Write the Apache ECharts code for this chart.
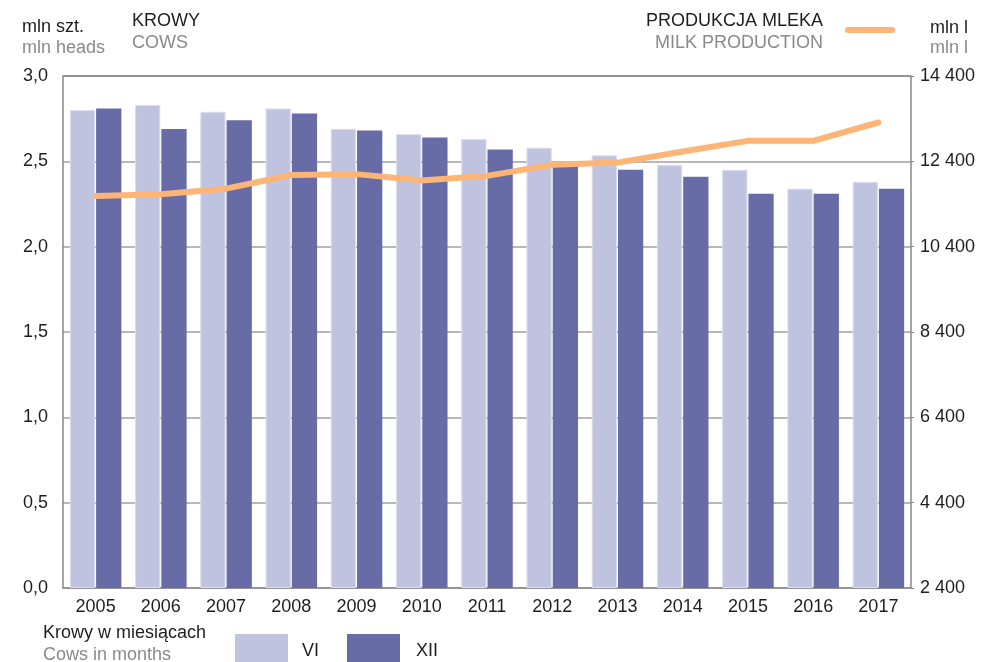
<!DOCTYPE html>
<html>
<head>
<meta charset="utf-8">
<script src="https://cdn.jsdelivr.net/npm/echarts@6/dist/echarts.min.js"></script>
<style>
  html, body { margin: 0; padding: 0; background: #fff; }
  #chart { width: 981px; height: 662px; }
</style>
</head>
<body>
<div id="chart"></div>
<script>
// Years on the category axis
const years = ['2005', '2006', '2007', '2008', '2009', '2010', '2011', '2012', '2013', '2014', '2015', '2016', '2017'];
// Cows in June (VI) and December (XII), mln heads
const cowsJune = [2.80, 2.83, 2.79, 2.81, 2.69, 2.66, 2.63, 2.58, 2.535, 2.48, 2.45, 2.34, 2.38];
const cowsDecember = [2.81, 2.69, 2.74, 2.78, 2.68, 2.64, 2.57, 2.48, 2.45, 2.41, 2.31, 2.31, 2.34];
// Milk production, mln litres
const milkProduction = [11590, 11630, 11760, 12080, 12100, 11950, 12060, 12320, 12370, 12630, 12880, 12880, 13310];

const FONT = '"Liberation Sans", Arial, sans-serif';
const FS = 18;
const DARK = '#1e1e1e';
const GREY = '#8a8a8a';
const VI_COLOR = '#c0c3df';
const XII_COLOR = '#676ca7';
const MILK_COLOR = '#fdb575';

const chart = echarts.init(document.getElementById('chart'));

function txt(x, y, text, color, align) {
  return {
    type: 'text', x: x, y: y, z: 10,
    style: { text: text, fill: color, font: FS + 'px ' + FONT, textAlign: align || 'left', textVerticalAlign: 'middle' }
  };
}

chart.setOption({
  animation: false,
  grid: { left: 63, right: 70, top: 76, bottom: 74, containLabel: false },
  xAxis: {
    type: 'category',
    data: years,
    axisLine: { show: true, lineStyle: { color: '#888', width: 1.5 } },
    axisTick: { show: false },
    axisLabel: { color: DARK, fontSize: FS, fontFamily: FONT, margin: 10 }
  },
  yAxis: [
    {
      type: 'value', min: 0, max: 3, interval: 0.5, position: 'left',
      axisLine: { show: true, lineStyle: { color: '#888', width: 1.5 } },
      axisTick: { show: false },
      splitLine: { show: true, lineStyle: { color: '#a0a0a0', width: 1.5 } },
      axisLabel: {
        color: DARK, fontSize: FS, fontFamily: FONT, margin: 15,
        formatter: v => v.toFixed(1).replace('.', ',')
      }
    },
    {
      type: 'value', min: 2400, max: 14400, interval: 2000, position: 'right',
      axisLine: { show: true, lineStyle: { color: '#888', width: 1.5 } },
      axisTick: { show: true, length: 3, lineStyle: { color: '#888' } },
      splitLine: { show: false },
      axisLabel: {
        color: DARK, fontSize: FS, fontFamily: FONT, margin: 9,
        formatter: v => String(v).replace(/\B(?=(\d{3})+(?!\d))/g, ' ')
      }
    }
  ],
  series: [
    {
      name: 'VI', type: 'bar', data: cowsJune, yAxisIndex: 0,
      barGap: '4%', barCategoryGap: '21%',
      itemStyle: { color: VI_COLOR, borderColor: '#dcdded', borderWidth: 1 }
    },
    {
      name: 'XII', type: 'bar', data: cowsDecember, yAxisIndex: 0,
      itemStyle: { color: XII_COLOR }
    },
    {
      name: 'PRODUKCJA MLEKA', type: 'line', data: milkProduction, yAxisIndex: 1,
      symbol: 'none', z: 5,
      lineStyle: { color: MILK_COLOR, width: 6, cap: 'round', join: 'round' }
    }
  ],
  graphic: [
    // top border of the plot box
    { type: 'line', shape: { x1: 63, y1: 76, x2: 911, y2: 76 }, style: { stroke: '#888', lineWidth: 1.5 }, z: 10 },
    // left headings
    txt(22, 27, 'mln szt.', DARK),
    txt(22, 48, 'mln heads', GREY),
    txt(132, 21, 'KROWY', DARK),
    txt(132, 43, 'COWS', GREY),
    // right headings
    txt(823, 21, 'PRODUKCJA MLEKA', DARK, 'right'),
    txt(823, 43, 'MILK PRODUCTION', GREY, 'right'),
    { type: 'line', shape: { x1: 848, y1: 30, x2: 892, y2: 30 }, style: { stroke: MILK_COLOR, lineWidth: 6, lineCap: 'round' }, z: 10 },
    txt(930, 28, 'mln l', DARK),
    txt(930, 48, 'mln l', GREY),
    // month legend
    txt(43, 633, 'Krowy w miesiącach', DARK),
    txt(43, 655, 'Cows in months', GREY),
    { type: 'rect', shape: { x: 235, y: 634, width: 53, height: 34 }, style: { fill: VI_COLOR }, z: 10 },
    txt(302, 651, 'VI', DARK),
    { type: 'rect', shape: { x: 347, y: 634, width: 53, height: 34 }, style: { fill: XII_COLOR }, z: 10 },
    txt(416, 651, 'XII', DARK)
  ]
});
</script>
</body>
</html>
